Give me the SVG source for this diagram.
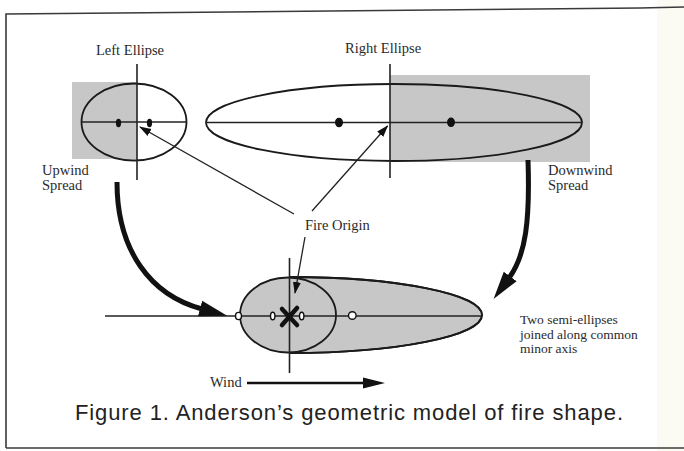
<svg xmlns="http://www.w3.org/2000/svg" width="684" height="451" viewBox="0 0 684 451">
<style>
.lbl{font-family:"Liberation Serif","Times New Roman",serif;font-size:14.5px;fill:#2a2a2a}
.note{font-family:"Liberation Serif","Times New Roman",serif;font-size:13.5px;fill:#2a2a2a}
.ln{stroke:#222;stroke-width:1.3;fill:none}
.ax{stroke:#222;stroke-width:1.6;fill:none}
.ell{stroke:#1a1a1a;stroke-width:1.8}
.gray{fill:#c7c7c7}
.big{stroke:#111;stroke-width:5;fill:none}
.dot{fill:#111}
.odot{fill:#fff;stroke:#111;stroke-width:1.4}
</style>
<defs>
<marker id="thin" markerUnits="userSpaceOnUse" markerWidth="14" markerHeight="10" refX="11" refY="5" orient="auto" viewBox="0 0 14 10">
<path d="M0,1 L12,5 L0,9 Z" fill="#111"/>
</marker>
<marker id="head" markerUnits="userSpaceOnUse" markerWidth="30" markerHeight="18" refX="2" refY="9" orient="auto" viewBox="0 0 30 18">
<path d="M0,1 L28,9 L0,17 Z" fill="#111"/>
</marker>
<marker id="wind" markerUnits="userSpaceOnUse" markerWidth="24" markerHeight="12" refX="1" refY="6" orient="auto" viewBox="0 0 24 12">
<path d="M0,0.5 L22,6 L0,11.5 Z" fill="#111"/>
</marker>
</defs>
<rect width="684" height="451" fill="#fff"/>
<rect x="657" y="0" width="27" height="451" fill="#fbfbf3"/>
<g id="frame" fill="none" stroke="#3a3a3a" stroke-width="1.6">
<polyline points="6,448 6,14 230,12 330,11 640,8 684,7"/>
<line x1="6" y1="448" x2="684" y2="448"/>
</g>
<g id="left-ellipse">
<rect class="gray" x="72" y="82" width="65" height="77"/>
<ellipse class="ell" cx="134" cy="122" rx="52.5" ry="38.5" fill="none"/>
<line class="ax" x1="82" y1="122" x2="186" y2="122"/>
<line class="ax" x1="137" y1="64" x2="137" y2="180"/>
<ellipse class="dot" cx="118.5" cy="123" rx="2.6" ry="4.2"/>
<ellipse class="dot" cx="149.5" cy="123" rx="2.6" ry="4.2"/>
<text class="lbl" x="96" y="55">Left Ellipse</text>
<text class="lbl" x="42" y="175">Upwind</text>
<text class="lbl" x="42" y="190">Spread</text>
</g>
<g id="right-ellipse">
<rect class="gray" x="390" y="75" width="200" height="87"/>
<ellipse class="ell" cx="394" cy="122.5" rx="188" ry="38.5" fill="none"/>
<line class="ax" x1="206" y1="122.5" x2="582" y2="122.5"/>
<line class="ax" x1="390" y1="64" x2="390" y2="178"/>
<ellipse class="dot" cx="339" cy="122.5" rx="4" ry="4.8"/>
<ellipse class="dot" cx="451" cy="122.3" rx="4" ry="4.8"/>
<text class="lbl" x="345" y="53">Right Ellipse</text>
<text class="lbl" x="548" y="175">Downwind</text>
<text class="lbl" x="548" y="190">Spread</text>
</g>
<g id="combined-shape">
<path class="gray ell" d="M290,277 A192,38 0 0 1 290,353 Z"/>
<ellipse class="gray ell" cx="288" cy="315" rx="48" ry="37.5"/>
<path class="ell" d="M290,277 A192,38 0 0 1 290,353" fill="none"/>
<line class="ax" x1="105" y1="316" x2="482" y2="316"/>
<line class="ax" x1="289.5" y1="258" x2="289.5" y2="373"/>
<path d="M282,309 L297,325 M297,308 L282,325" stroke="#111" stroke-width="4.5" stroke-linecap="round"/>
<ellipse class="odot" cx="238.5" cy="316" rx="3" ry="3.6"/>
<ellipse class="odot" cx="272.7" cy="316" rx="2.2" ry="3.8"/>
<ellipse class="odot" cx="301.7" cy="316" rx="2.2" ry="3.8"/>
<circle class="odot" cx="352.3" cy="315.5" r="3.8"/>
</g>
<g id="fire-origin-label">
<text class="lbl" x="305" y="230">Fire Origin</text>
</g>
<g id="caption-notes">
<text class="note" x="520" y="324">Two semi-ellipses</text>
<text class="note" x="520" y="338.5">joined along common</text>
<text class="note" x="520" y="353">minor axis</text>
<text class="lbl" x="210" y="387">Wind</text>
</g>
<g id="connectors">
<line class="ln" x1="294" y1="214" x2="140" y2="127" marker-end="url(#thin)"/>
<line class="ln" x1="312" y1="211" x2="387.5" y2="126" marker-end="url(#thin)"/>
<line class="ln" x1="305" y1="237" x2="295" y2="293" marker-end="url(#thin)"/>
<path class="big" d="M117,182 C117,250 150,295 202,309" marker-end="url(#head)"/>
<path class="big" d="M528,160 C530,220 526,255 509,278" marker-end="url(#head)"/>
<line x1="247" y1="383" x2="364" y2="383" stroke="#111" stroke-width="2.4" marker-end="url(#wind)"/>
</g>
<g id="caption">
<text x="75" y="420" textLength="548" font-family="'Liberation Sans',Arial,sans-serif" font-size="22" fill="#222">Figure 1. Anderson’s geometric model of fire shape.</text>
</g>
</svg>
